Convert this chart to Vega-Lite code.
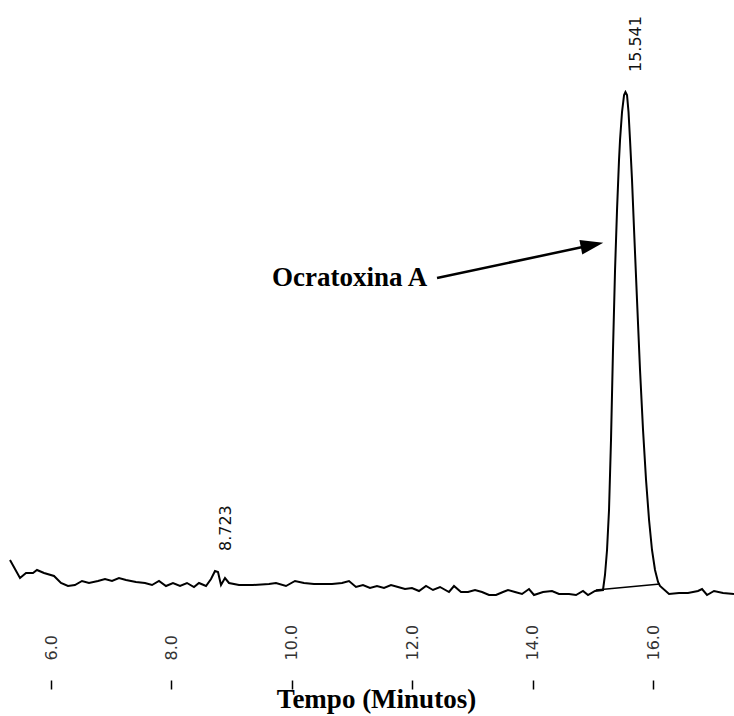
{
  "$schema": "https://vega.github.io/schema/vega-lite/v6.json",
  "autosize": "none",
  "width": 724,
  "height": 680,
  "padding": {"left": 10, "top": 0, "right": 0, "bottom": 36},
  "background": "white",
  "config": {"view": {"stroke": null}},
  "datasets": {
    "trace": [
      {"t":5.318,"v":8.0},{"t":5.484,"v":4.4},{"t":5.584,"v":5.4},{"t":5.700,"v":5.4},{"t":5.766,"v":6.0},
      {"t":5.883,"v":5.4},{"t":6.049,"v":4.8},{"t":6.165,"v":3.4},{"t":6.281,"v":2.8},{"t":6.396,"v":3.0},
      {"t":6.514,"v":3.8},{"t":6.630,"v":3.4},{"t":6.779,"v":3.8},{"t":6.896,"v":4.2},{"t":7.012,"v":3.8},
      {"t":7.128,"v":4.4},{"t":7.245,"v":4.0},{"t":7.411,"v":3.6},{"t":7.560,"v":3.4},{"t":7.677,"v":3.0},
      {"t":7.793,"v":3.8},{"t":7.909,"v":2.8},{"t":8.025,"v":3.4},{"t":8.142,"v":2.8},{"t":8.258,"v":3.4},
      {"t":8.374,"v":2.6},{"t":8.457,"v":3.4},{"t":8.574,"v":2.8},{"t":8.657,"v":4.2},{"t":8.723,"v":5.8},
      {"t":8.773,"v":5.6},{"t":8.823,"v":3.0},{"t":8.889,"v":4.4},{"t":8.956,"v":3.4},{"t":9.122,"v":3.0},
      {"t":9.354,"v":3.0},{"t":9.620,"v":3.2},{"t":9.736,"v":3.4},{"t":9.902,"v":2.8},{"t":10.052,"v":3.8},
      {"t":10.201,"v":3.4},{"t":10.367,"v":3.2},{"t":10.517,"v":3.2},{"t":10.666,"v":3.2},{"t":10.833,"v":3.4},
      {"t":10.949,"v":3.8},{"t":11.065,"v":2.6},{"t":11.181,"v":3.0},{"t":11.298,"v":2.4},{"t":11.414,"v":2.8},
      {"t":11.530,"v":2.4},{"t":11.647,"v":3.0},{"t":11.763,"v":2.6},{"t":11.879,"v":2.2},{"t":11.995,"v":2.4},
      {"t":12.112,"v":1.8},{"t":12.228,"v":2.8},{"t":12.344,"v":2.0},{"t":12.461,"v":2.6},{"t":12.610,"v":1.6},
      {"t":12.693,"v":2.8},{"t":12.809,"v":1.6},{"t":12.926,"v":1.6},{"t":13.042,"v":2.0},{"t":13.158,"v":1.6},
      {"t":13.275,"v":1.0},{"t":13.391,"v":1.0},{"t":13.507,"v":1.6},{"t":13.590,"v":2.0},{"t":13.706,"v":1.6},
      {"t":13.823,"v":1.2},{"t":13.939,"v":2.2},{"t":14.022,"v":1.0},{"t":14.172,"v":1.6},{"t":14.321,"v":1.8},
      {"t":14.437,"v":1.2},{"t":14.603,"v":1.2},{"t":14.720,"v":1.0},{"t":14.836,"v":1.8},{"t":14.919,"v":1.0},
      {"t":15.035,"v":1.8},{"t":15.168,"v":2.0},{"t":15.201,"v":5.0},{"t":15.235,"v":10.0},{"t":15.268,"v":18.0},
      {"t":15.301,"v":32.0},{"t":15.334,"v":50.0},{"t":15.368,"v":66.0},{"t":15.401,"v":78.0},{"t":15.434,"v":88.0},
      {"t":15.451,"v":92.0},{"t":15.484,"v":97.6},{"t":15.518,"v":101.0},{"t":15.541,"v":101.6},{"t":15.567,"v":101.0},
      {"t":15.592,"v":97.6},{"t":15.617,"v":92.0},{"t":15.650,"v":84.0},{"t":15.684,"v":74.0},{"t":15.733,"v":60.0},
      {"t":15.783,"v":46.0},{"t":15.833,"v":34.0},{"t":15.883,"v":24.0},{"t":15.933,"v":16.0},{"t":15.982,"v":10.0},
      {"t":16.032,"v":6.0},{"t":16.082,"v":3.6},{"t":16.115,"v":2.8},
      {"t":16.265,"v":1.2},{"t":16.431,"v":1.4},{"t":16.580,"v":1.4},{"t":16.746,"v":1.8},{"t":16.813,"v":2.2},
      {"t":16.896,"v":1.0},{"t":17.012,"v":1.8},{"t":17.162,"v":1.4},{"t":17.344,"v":1.2}
    ],
    "peaks": [
      {"t":8.723,"v":5.8,"label":"8.723"},
      {"t":15.541,"v":101.6,"label":"15.541"}
    ],
    "tangent": [
      {"t":15.05,"v":2.0,"t2":16.115,"v2":3.2}
    ],
    "arrow": [
      {"t":12.411,"v":64.4,"t2":14.986,"v2":71.0}
    ],
    "head": [
      {"t":14.986,"v":71.0}
    ],
    "note": [
      {"t":9.670,"v":62.8,"label":"Ocratoxina A"}
    ]
  },
  "layer": [
    {
      "data": {"name": "trace"},
      "mark": {"type": "line", "color": "black", "strokeWidth": 2, "interpolate": "linear"},
      "encoding": {
        "x": {
          "field": "t", "type": "quantitative",
          "scale": {"domain": [5.318, 17.344], "nice": false, "zero": false},
          "axis": {
            "title": "Tempo (Minutos)",
            "values": [6, 8, 10, 12, 14, 16],
            "format": ".1f",
            "domain": false,
            "grid": false,
            "ticks": true,
            "tickSize": 9,
            "tickWidth": 1.5,
            "tickColor": "black",
            "labelAngle": -90,
            "labelAlign": "left",
            "labelBaseline": "middle",
            "labelPadding": -29,
            "labelFont": "DejaVu Sans",
            "labelFontSize": 16,
            "labelColor": "#333333",
            "titleFont": "Liberation Serif",
            "titleFontSize": 27,
            "titleFontWeight": "bold",
            "titleColor": "black",
            "titleBaseline": "alphabetic",
            "titleY": 27,
            "titleX": 366
          }
        },
        "y": {
          "field": "v", "type": "quantitative",
          "scale": {"domain": [-16.0, 120], "nice": false, "zero": false},
          "axis": null
        }
      }
    },
    {
      "data": {"name": "tangent"},
      "mark": {"type": "rule", "color": "black", "strokeWidth": 1.5},
      "encoding": {
        "x": {"field": "t", "type": "quantitative", "scale": {"domain": [5.318, 17.344], "nice": false, "zero": false}},
        "x2": {"field": "t2"},
        "y": {"field": "v", "type": "quantitative", "scale": {"domain": [-16.0, 120], "nice": false, "zero": false}},
        "y2": {"field": "v2"}
      }
    },
    {
      "data": {"name": "arrow"},
      "mark": {"type": "rule", "color": "black", "strokeWidth": 2.5},
      "encoding": {
        "x": {"field": "t", "type": "quantitative", "scale": {"domain": [5.318, 17.344], "nice": false, "zero": false}},
        "x2": {"field": "t2"},
        "y": {"field": "v", "type": "quantitative", "scale": {"domain": [-16.0, 120], "nice": false, "zero": false}},
        "y2": {"field": "v2"}
      }
    },
    {
      "data": {"name": "head"},
      "mark": {"type": "point", "shape": "M-1,-0.65L1,0L-1,0.65Z", "size": 520, "filled": true, "color": "black", "opacity": 1, "angle": -11},
      "encoding": {
        "x": {"field": "t", "type": "quantitative", "scale": {"domain": [5.318, 17.344], "nice": false, "zero": false}},
        "y": {"field": "v", "type": "quantitative", "scale": {"domain": [-16.0, 120], "nice": false, "zero": false}}
      }
    },
    {
      "data": {"name": "note"},
      "mark": {"type": "text", "font": "Liberation Serif", "fontSize": 27, "fontWeight": "bold", "align": "left", "baseline": "alphabetic", "color": "black"},
      "encoding": {
        "x": {"field": "t", "type": "quantitative", "scale": {"domain": [5.318, 17.344], "nice": false, "zero": false}},
        "y": {"field": "v", "type": "quantitative", "scale": {"domain": [-16.0, 120], "nice": false, "zero": false}},
        "text": {"field": "label"}
      }
    },
    {
      "data": {"name": "peaks"},
      "mark": {"type": "text", "font": "DejaVu Sans", "fontSize": 16, "angle": -90, "align": "left", "baseline": "middle", "dx": 20, "dy": 11, "color": "#111111"},
      "encoding": {
        "x": {"field": "t", "type": "quantitative", "scale": {"domain": [5.318, 17.344], "nice": false, "zero": false}},
        "y": {"field": "v", "type": "quantitative", "scale": {"domain": [-16.0, 120], "nice": false, "zero": false}},
        "text": {"field": "label"}
      }
    }
  ]
}
